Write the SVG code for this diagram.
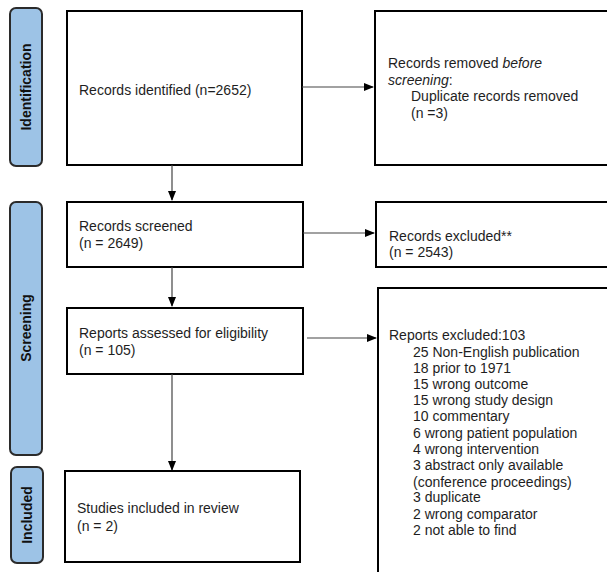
<svg xmlns="http://www.w3.org/2000/svg" width="607" height="572" viewBox="0 0 607 572">
<defs>
<marker id="ah" markerWidth="10" markerHeight="10" refX="9" refY="5" orient="auto" markerUnits="userSpaceOnUse">
<path d="M0,1 L10,5 L0,9 Z" fill="#000"/>
</marker>
<style>
.box{fill:#fff;stroke:#000;stroke-width:2}
.pill{fill:#9dc3e6;stroke:#2b2b2b;stroke-width:2}
.t{font-family:"Liberation Sans",Arial,sans-serif;font-size:14px;fill:#1e1e1e}
.p{font-family:"Liberation Sans",Arial,sans-serif;font-size:14px;font-weight:bold;fill:#111}
.c{stroke:#444;stroke-width:1.2;fill:none;marker-end:url(#ah)}
</style>
</defs>
<rect width="607" height="572" fill="#fff"/>
<g id="phase-identification"><rect class="pill" x="10" y="8" width="32" height="158" rx="6"/><text class="p" transform="translate(31,87) rotate(-90)" text-anchor="middle">Identification</text></g>
<g id="phase-screening"><rect class="pill" x="10" y="202" width="32" height="253" rx="6"/><text class="p" transform="translate(31,328) rotate(-90)" text-anchor="middle">Screening</text></g>
<g id="phase-included"><rect class="pill" x="11" y="467" width="32" height="96" rx="6"/><text class="p" transform="translate(32,515) rotate(-90)" text-anchor="middle">Included</text></g>

<g id="identified"><rect class="box" x="67" y="11" width="235" height="154"/><text class="t" x="79" y="95">Records identified (n=2652)</text></g>
<g id="removed"><rect class="box" x="375" y="11" width="240" height="154"/><text class="t" x="388" y="68">Records removed <tspan font-style="italic">before</tspan></text><text class="t" x="388" y="85" font-style="italic">screening<tspan font-style="normal">:</tspan></text><text class="t" x="411" y="101">Duplicate records removed</text><text class="t" x="411" y="118">(n =3)</text></g>
<g id="screened"><rect class="box" x="67" y="202" width="236" height="65"/><text class="t" x="79" y="231">Records screened</text><text class="t" x="79" y="248">(n = 2649)</text></g>
<g id="excluded"><rect class="box" x="376" y="202" width="240" height="65"/><text class="t" x="389" y="241">Records excluded**</text><text class="t" x="389" y="257">(n = 2543)</text></g>
<g id="assessed"><rect class="box" x="67" y="308" width="236" height="66"/><text class="t" x="79" y="338">Reports assessed for eligibility</text><text class="t" x="79" y="355">(n = 105)</text></g>
<g id="reports-excluded"><rect class="box" x="378" y="288" width="240" height="300"/>
<text class="t" x="389" y="340">Reports excluded:103</text>
<text class="t" x="413" y="357">25 Non-English publication</text>
<text class="t" x="413" y="373">18 prior to 1971</text>
<text class="t" x="413" y="389">15 wrong outcome</text>
<text class="t" x="413" y="405">15 wrong study design</text>
<text class="t" x="413" y="421">10 commentary</text>
<text class="t" x="413" y="438">6 wrong patient population</text>
<text class="t" x="413" y="454">4 wrong intervention</text>
<text class="t" x="413" y="470">3 abstract only available</text>
<text class="t" x="413" y="487">(conference proceedings)</text>
<text class="t" x="413" y="502">3 duplicate</text>
<text class="t" x="413" y="519">2 wrong comparator</text>
<text class="t" x="413" y="535">2 not able to find</text>
</g>
<g id="included"><rect class="box" x="65" y="471" width="235" height="91"/><text class="t" x="77" y="513">Studies included in review</text><text class="t" x="77" y="531">(n = 2)</text></g>

<g id="connectors">
<line class="c" x1="302" y1="87" x2="373" y2="87"/>
<line class="c" x1="172" y1="165" x2="172" y2="200"/>
<line class="c" x1="303" y1="233" x2="374" y2="233"/>
<line class="c" x1="172" y1="267" x2="172" y2="306"/>
<line class="c" x1="307" y1="338" x2="376" y2="338"/>
<line class="c" x1="172" y1="374" x2="172" y2="470"/>
</g>
</svg>
